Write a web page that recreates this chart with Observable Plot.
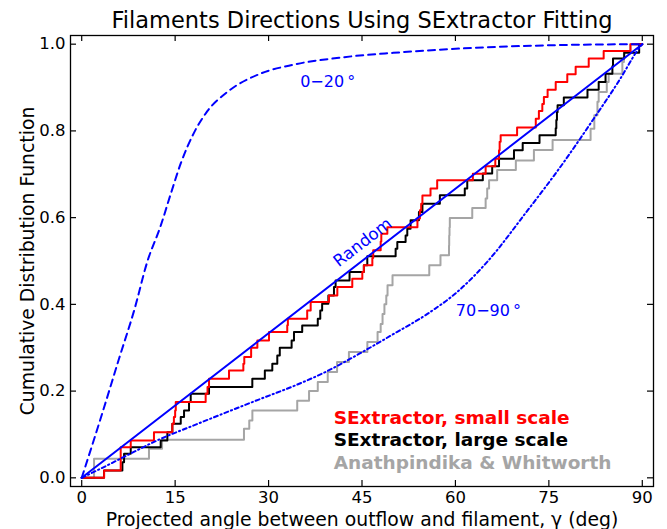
<!DOCTYPE html>
<html><head><meta charset="utf-8">
<script src="https://cdn.jsdelivr.net/npm/d3@7"></script>
<script src="https://cdn.jsdelivr.net/npm/@observablehq/plot@0.6"></script>
<style>body{margin:0;background:#fff;} #chart svg{display:block;}</style>
</head><body><div id="chart"></div>
<script>
const xTicks = [0, 15, 30, 45, 60, 75, 90];
const yTicks = [0, 0.2, 0.4, 0.6, 0.8, 1.0];

const redX = [0, 3.6, 6.26, 7.87, 11.6, 14.55, 14.8, 15.0, 15.1, 19.9, 20.2, 20.44, 23.65, 25.95, 26.1, 27.2, 28.2, 30.07, 33.0, 33.1, 36.2, 36.76, 39.7, 41.04, 43.44, 45.05, 45.3, 46.66, 46.8, 48.0, 48.1, 49.07, 53.9, 54.3, 54.5, 54.7, 56.0, 57.07, 62.8, 64.85, 66.4, 67.0, 67.1, 67.26, 69.9, 72.9, 73.4, 73.95, 74.2, 74.8, 76.1, 77.96, 79.3, 81.4, 83.8, 88.1, 90];
const redY = [0, 0.017, 0.0707, 0.086, 0.1053, 0.1245, 0.14, 0.155, 0.1746, 0.1938, 0.2092, 0.2284, 0.2476, 0.263, 0.2784, 0.300, 0.3169, 0.336, 0.352, 0.3669, 0.386, 0.4053, 0.4207, 0.44, 0.459, 0.4746, 0.49, 0.507, 0.5246, 0.545, 0.563, 0.578, 0.598, 0.617, 0.632, 0.651, 0.667, 0.686, 0.701, 0.7184, 0.736, 0.7554, 0.775, 0.79, 0.8077, 0.828, 0.846, 0.862, 0.878, 0.895, 0.913, 0.9307, 0.9477, 0.967, 0.984, 1.0, 1.0];

const blackX = [0, 3.58, 6.53, 6.8, 7.87, 12.68, 13.75, 14.55, 15.9, 16.43, 17.23, 17.5, 20.44, 27.39, 29.4, 30.6, 31.4, 31.8, 33.7, 34.08, 35.4, 37.9, 38.3, 38.6, 39.6, 40.5, 40.76, 43.0, 45.3, 45.85, 50.4, 50.67, 52.0, 52.27, 52.8, 54.14, 54.7, 57.5, 61.5, 61.9, 64.4, 65.9, 67.0, 69.4, 70.8, 73.5, 76.1, 76.2, 76.3, 76.4, 77.4, 81.2, 83.0, 84.1, 85.2, 85.3, 87.1, 89.5, 90];
const blackY = [0, 0.0168, 0.036, 0.0553, 0.0707, 0.086, 0.1053, 0.1245, 0.14, 0.155, 0.1746, 0.1938, 0.2092, 0.2284, 0.2476, 0.263, 0.2823, 0.30, 0.3169, 0.336, 0.3515, 0.367, 0.386, 0.4015, 0.4207, 0.44, 0.4553, 0.4746, 0.49, 0.5108, 0.528, 0.5438, 0.559, 0.5746, 0.5938, 0.613, 0.6323, 0.6515, 0.667, 0.686, 0.7015, 0.7185, 0.736, 0.7554, 0.7723, 0.79, 0.806, 0.825, 0.843, 0.859, 0.877, 0.895, 0.913, 0.932, 0.949, 0.967, 0.98, 1.0, 1.0];

const greyX = [0, 1.98, 10.8, 12.9, 26.05, 26.9, 27.4, 34.6, 36.5, 37.9, 39.5, 41.0, 42.9, 45.86, 47.5, 48.0, 48.3, 48.6, 48.9, 49.1, 49.9, 55.8, 57.6, 58.97, 59.0, 59.05, 59.1, 62.7, 64.85, 65.1, 65.4, 66.7, 69.7, 72.6, 75.6, 81.7, 82.3, 82.8, 83.0, 84.3, 84.6, 86.8, 87.05, 88.1, 90];
const greyY = [0, 0.0438, 0.0668, 0.0876, 0.113, 0.132, 0.1553, 0.178, 0.2, 0.221, 0.244, 0.267, 0.29, 0.313, 0.336, 0.355, 0.378, 0.40, 0.4207, 0.4438, 0.4669, 0.49, 0.513, 0.536, 0.559, 0.577, 0.599, 0.6223, 0.644, 0.667, 0.686, 0.71, 0.732, 0.756, 0.779, 0.805, 0.836, 0.867, 0.89, 0.913, 0.932, 0.959, 0.982, 1.0, 1.0];

const randomX = [0, 90];
const randomY = [0, 1];

const c020X = [0, 3, 6, 8.5, 10.5, 12.7, 14.3, 15.9, 18.0, 20.2, 23.4, 28.7, 34.1, 42.1, 50, 60.8, 76.9, 90];
const c020Y = [0, 0.135, 0.275, 0.39, 0.497, 0.582, 0.655, 0.725, 0.795, 0.846, 0.89, 0.932, 0.953, 0.97, 0.98, 0.990, 0.998, 1.0];

const c7090X = [0, 4, 7.3, 12.7, 18, 23.4, 28.7, 34.1, 39.4, 44.8, 50.1, 55.5, 60.8, 65.1, 71.5, 76.9, 82.2, 86.5, 89.2, 90];
const c7090Y = [0, 0.028, 0.052, 0.09, 0.121, 0.152, 0.182, 0.212, 0.246, 0.288, 0.332, 0.378, 0.435, 0.498, 0.615, 0.718, 0.828, 0.921, 0.985, 1.0];

const legendNames = ["SExtractor, small scale", "SExtractor, large scale", "Anathpindika & Whitworth"];
const legendColors = ["#ff0000", "#000000", "#a5a5a5"];

const pts = (xs, ys) => xs.map((x, i) => ({x, y: ys[i]}));
const FONT = "DejaVu Sans, Bitstream Vera Sans, sans-serif";
const BLUE = "#0000ff";

const chart = Plot.plot({
  width: 667, height: 529,
  marginLeft: 70, marginRight: 14, marginTop: 35, marginBottom: 43,
  style: {fontFamily: FONT, background: "white", color: "black"},
  x: {domain: [-1.8, 91.8]},
  y: {domain: [-0.02, 1.02]},
  marks: [
    Plot.line(pts(greyX, greyY), {x: "x", y: "y", curve: "step-after", stroke: legendColors[2], strokeWidth: 2}),
    Plot.line(pts(blackX, blackY), {x: "x", y: "y", curve: "step-after", stroke: legendColors[1], strokeWidth: 2}),
    Plot.line(pts(redX, redY), {x: "x", y: "y", curve: "step-after", stroke: legendColors[0], strokeWidth: 2}),
    Plot.line(pts(randomX, randomY), {x: "x", y: "y", stroke: BLUE, strokeWidth: 2}),
    Plot.line(pts(c020X, c020Y), {x: "x", y: "y", curve: "monotone-x", stroke: BLUE, strokeWidth: 2, strokeDasharray: "7,5"}),
    Plot.line(pts(c7090X, c7090Y), {x: "x", y: "y", curve: "monotone-x", stroke: BLUE, strokeWidth: 2, strokeDasharray: "4,3,1.2,3"}),
    Plot.frame({stroke: "black", strokeWidth: 1.3}),
    Plot.tickX(xTicks, {x: d => d, insetTop: 445, stroke: "black", strokeWidth: 1.2}),
    Plot.tickX(xTicks, {x: d => d, insetBottom: 445, stroke: "black", strokeWidth: 1.2}),
    Plot.tickY(yTicks, {y: d => d, insetRight: 577, stroke: "black", strokeWidth: 1.2}),
    Plot.tickY(yTicks, {y: d => d, insetLeft: 577, stroke: "black", strokeWidth: 1.2}),
    Plot.axisX(xTicks, {tickSize: 0, tickPadding: 5, fontSize: 16.5, label: null}),
    Plot.axisY(yTicks, {tickSize: 0, tickPadding: 5, fontSize: 16.5, tickFormat: d3.format(".1f"), label: null}),
    Plot.text(["0\u221220\u2009\u00b0"], {x: 39.5, y: 0.912, fill: BLUE, fontSize: 16}),
    Plot.text(["70\u221290\u2009\u00b0"], {x: 65.3, y: 0.384, fill: BLUE, fontSize: 16}),
    Plot.text(["Random"], {x: 45.1, y: 0.543, fill: BLUE, fontSize: 16.5, rotate: -37.7}),
    Plot.text(legendNames, {x: 40.45, y: (d, i) => 0.137 - i * 0.051, fill: (d, i) => legendColors[i], textAnchor: "start", lineAnchor: "middle", fontSize: 18.5, fontWeight: "bold"}),
    Plot.text(["Filaments Directions Using SExtractor Fitting"], {frameAnchor: "top", dy: -15, lineAnchor: "middle", textAnchor: "middle", fontSize: 22.5}),
    Plot.text(["Cumulative Distribution Function"], {frameAnchor: "left", dx: -43, rotate: -90, lineAnchor: "middle", textAnchor: "middle", fontSize: 18.8}),
    Plot.text(["Projected angle between outflow and filament, \u03b3 (deg)"], {frameAnchor: "bottom", dy: 33, lineAnchor: "middle", textAnchor: "middle", fontSize: 18.8})
  ]
});
document.getElementById("chart").appendChild(chart);
</script>
</body></html>
